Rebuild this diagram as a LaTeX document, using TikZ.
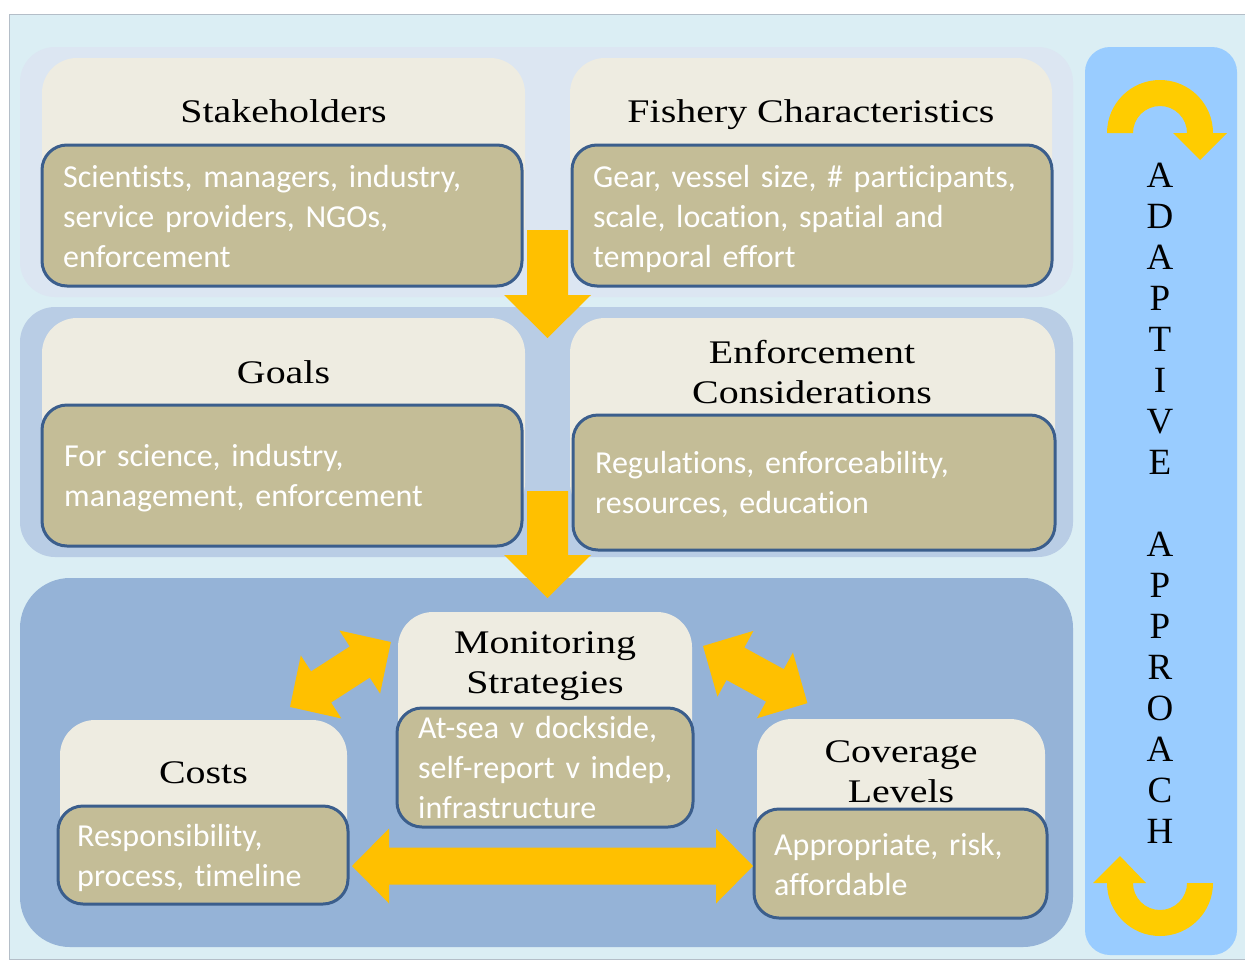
\documentclass[tikz,border=0pt]{standalone}
\usepackage{fontspec}
\newfontfamily\bodyfont{Carlito}[Ligatures=NoCommon]
\newfontfamily\titlefont{Liberation Serif}[FakeStretch=1.21]
\newfontfamily\sidefont{Liberation Serif}
\definecolor{framebg}{HTML}{DBEEF4}
\definecolor{frameline}{HTML}{B4BEC8}
\definecolor{bandone}{HTML}{DCE6F2}
\definecolor{bandtwo}{HTML}{B9CDE5}
\definecolor{bandthree}{HTML}{95B3D7}
\definecolor{sidebg}{HTML}{99CCFF}
\definecolor{cream}{HTML}{EEECE1}
\definecolor{olivebox}{HTML}{C4BD97}
\definecolor{boxblue}{HTML}{3B5E8C}
\definecolor{arrowyellow}{HTML}{FFC000}
\definecolor{curveyellow}{HTML}{FFCC00}
\tikzset{
  panel/.style={anchor=north west, inner sep=0, outer sep=0, draw=none},
  creambox/.style={panel, fill=cream, rounded corners=35},
  bodybox/.style={anchor=north west, outer sep=0, inner sep=0, fill=olivebox, draw=boxblue,
    line width=3, rounded corners=25},
  bodytext/.style={anchor=base west, inner sep=0, align=left, text=white,
    font=\bodyfont\fontsize{32}{40}\selectfont},
  ttl/.style={anchor=base, inner sep=0, align=center, text=black,
    font=\titlefont\fontsize{33}{40}\selectfont},
  arrowfill/.style={fill=arrowyellow},
  curvefill/.style={fill=curveyellow},
  pics/downarrow/.style={code={
    \fill[arrowfill] (-20.5,0) -- (20.5,0) -- (20.5,#1-43) -- (43.5,#1-43) -- (0,#1)
      -- (-43.5,#1-43) -- (-20.5,#1-43) -- cycle;}},
  pics/dblarrow/.style={code={
    \fill[arrowfill] (0,0) -- (37,-37.5) -- (37,-18.5) -- ({#1-37},-18.5) -- ({#1-37},-37.5)
      -- (#1,0) -- ({#1-37},37.5) -- ({#1-37},18.5) -- (37,18.5) -- (37,37.5) -- cycle;}}
}
\begin{document}
\begin{tikzpicture}[x=1pt,y=-1pt]
\useasboundingbox (0,0) rectangle (1245,959);
% frame
\node[panel, fill=framebg, draw=frameline, line width=1, minimum width=1245, minimum height=945] (frame) at (9,14) {};
% bands
\node[panel, fill=bandone, rounded corners=35, minimum width=1053, minimum height=250] (bandA) at (20,47) {};
\node[panel, fill=bandtwo, rounded corners=35, minimum width=1053, minimum height=250] (bandB) at (20,307) {};
\node[panel, fill=bandthree, rounded corners=50, minimum width=1053, minimum height=369] (bandC) at (20,578) {};
\node[panel, fill=sidebg, rounded corners=25, minimum width=152, minimum height=908] (side) at (1085,47) {};
% cream boxes
\node[creambox, minimum width=483, minimum height=200] (stkC) at (42,58) {};
\node[creambox, minimum width=482, minimum height=200] (fshC) at (570,58) {};
\node[creambox, minimum width=483, minimum height=200] (golC) at (42,318) {};
\node[creambox, minimum width=485, minimum height=200] (enfC) at (570,318) {};
\node[creambox, minimum width=294, minimum height=180] (monC) at (398,612) {};
\node[creambox, minimum width=287, minimum height=150] (cstC) at (60,720) {};
\node[creambox, minimum width=288, minimum height=160] (covC) at (757,719) {};
% titles
\node[ttl] (stkT) at (283.5,122) {Stakeholders};
\node[ttl] (fshT) at (811,122) {Fishery Characteristics};
\node[ttl] (golT) at (283.5,383) {Goals};
\node[ttl, text width=400] (enfT) at (812,363) {Enforcement\\Considerations};
\node[ttl, text width=280] (monT) at (545,653) {Monitoring\\Strategies};
\node[ttl] (cstT) at (203.5,783) {Costs};
\node[ttl, text width=280] (covT) at (901,762) {Coverage\\Levels};
% body boxes
\node[bodybox, minimum width=480, minimum height=141] (stkB) at (42,145) {};
\node[bodybox, minimum width=480, minimum height=141] (fshB) at (572,145) {};
\node[bodybox, minimum width=480, minimum height=141] (golB) at (42,405) {};
\node[bodybox, minimum width=482, minimum height=135] (enfB) at (573,415) {};
\node[bodybox, minimum width=296, minimum height=119] (monB) at (397,708) {};
\node[bodybox, minimum width=290, minimum height=98] (cstB) at (58,806) {};
\node[bodybox, minimum width=293, minimum height=109] (covB) at (754,809) {};
% body texts
\node[bodytext, text width=440] (stkX) at (63,187) {Scientists, managers, industry,\\service providers, NGOs,\\enforcement};
\node[bodytext, text width=440] (fshX) at (593,187) {Gear, vessel size, \# participants,\\scale, location, spatial and\\temporal effort};
\node[bodytext, text width=440] (golX) at (64,466) {For science, industry,\\management, enforcement};
\node[bodytext, text width=440] (enfX) at (595,473) {Regulations, enforceability,\\resources, education};
\node[bodytext, text width=262] (monX) at (418,738) {At-sea v dockside,\\self-report v indep,\\infrastructure};
\node[bodytext, text width=255] (cstX) at (77,846) {Responsibility,\\process, timeline};
\node[bodytext, text width=255] (covX) at (774,855) {Appropriate, risk,\\affordable};
% straight block arrows
\pic at (547.5,230) {downarrow=108};
\pic at (547.5,491) {downarrow=107};
\pic at (352,866) {dblarrow=401};
\pic[rotate=32.8] at (290,707) {dblarrow=120};
\pic[rotate=-28.7] at (703,646) {dblarrow=119};
% curved arrows
\fill[curvefill] (1107,133) arc[start angle=180, end angle=360, radius=53] -- (1227,133)
  -- (1200,160) -- (1173,133) -- (1187,133) arc[start angle=360, end angle=180, radius=27] -- cycle;
\fill[curvefill] (1213,883) arc[start angle=0, end angle=180, radius=53] -- (1093,883)
  -- (1120,856) -- (1146,883) -- (1133,883) arc[start angle=180, end angle=0, radius=27] -- cycle;
% side text
\node[anchor=base, inner sep=0, align=center, text width=60, font=\sidefont\fontsize{37}{41}\selectfont] (sideT) at (1160,187)
  {A\\D\\A\\P\\T\\I\\V\\E\\\mbox{}\\A\\P\\P\\R\\O\\A\\C\\H};
\end{tikzpicture}
\end{document}
